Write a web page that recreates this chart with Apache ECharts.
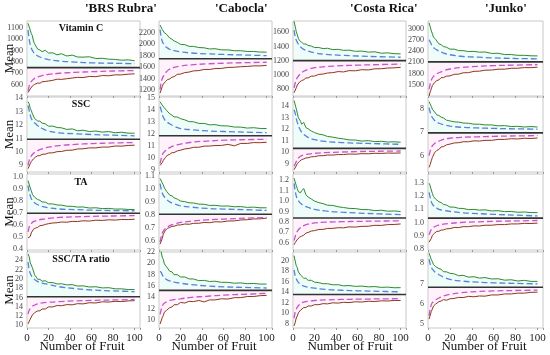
<!DOCTYPE html>
<html><head><meta charset="utf-8">
<script src="https://cdn.jsdelivr.net/npm/echarts@6/dist/echarts.min.js"></script>
<style>html,body{margin:0;padding:0;background:#fff}#c{width:550px;height:355px}</style>
</head><body><div id="c"></div>
<script>
// ---------------- DATA ----------------
const fruitN = [1,2,3,4,5,6,7,8,10,12,14,17,20,24,28,32,37,42,47,52,58,64,70,76,82,88,94,100];
const fruitD = [1,2,3,4,6,8,10,14,20,30,45,60,80,100];
const cultivars = ["'BRS Rubra'","'Cabocla'","'Costa Rica'","'Junko'"];
const traits = ["Vitamin C","SSC","TA","SSC/TA ratio"];
const xTicks = [0,20,40,60,80,100];

// Vitamin C
const vc_brs_mean = 750;
const vc_brs_hi   = [1140,1135,1080,1050,1030,985,960,950,912,905,890,902,878,880,862,872,852,860,843,842,845,830,832,824,822,815,818,810];
const vc_brs_ciHi = [1080,1000,950,920,885,865,852,835,820,808,798,792,788,785];
const vc_brs_ciLo = [545,585,610,628,648,660,668,680,690,700,708,714,720,724];
const vc_brs_lo   = [530,535,562,572,588,586,602,596,614,612,625,628,632,638,648,646,652,658,664,662,672,670,680,678,686,686,692,695];
const vc_brs_ticks = [600,700,800,900,1000,1100];

const vc_cab_mean = 1745;
const vc_cab_hi   = [2330,2310,2255,2235,2195,2195,2170,2155,2105,2085,2055,2030,1995,1990,1960,1960,1940,1935,1915,1920,1900,1900,1885,1885,1872,1872,1862,1860];
const vc_cab_ciHi = [2250,2120,2050,2010,1960,1930,1910,1885,1865,1845,1830,1820,1810,1800];
const vc_cab_ciLo = [1210,1330,1400,1440,1500,1540,1565,1595,1620,1640,1658,1668,1678,1685];
const vc_cab_lo   = [1150,1205,1265,1305,1325,1350,1355,1385,1395,1425,1435,1475,1480,1505,1515,1535,1540,1560,1560,1575,1578,1595,1598,1608,1612,1622,1622,1630];
const vc_cab_ticks = [1200,1400,1600,1800,2000,2200];

const vc_cos_mean = 1200;
const vc_cos_hi   = [1755,1740,1615,1565,1515,1485,1465,1460,1435,1435,1415,1405,1385,1385,1370,1375,1355,1360,1345,1348,1332,1335,1320,1325,1305,1310,1298,1296];
const vc_cos_ciHi = [1630,1540,1490,1460,1410,1380,1360,1335,1310,1290,1275,1265,1255,1248];
const vc_cos_ciLo = [815,880,930,960,1000,1030,1050,1075,1100,1115,1128,1136,1144,1150];
const vc_cos_lo   = [745,762,815,855,866,895,900,918,930,955,955,980,982,1005,1010,1025,1030,1045,1040,1058,1056,1072,1068,1084,1085,1095,1098,1105];
const vc_cos_ticks = [800,1000,1200,1400,1600];

const vc_jun_mean = 2110;
const vc_jun_hi   = [3150,3050,2940,2860,2770,2760,2710,2705,2590,2570,2520,2500,2450,2450,2410,2410,2385,2390,2368,2375,2335,2340,2305,2305,2285,2285,2272,2270];
const vc_jun_ciHi = [2700,2640,2580,2530,2470,2430,2400,2350,2300,2260,2235,2215,2200,2190];
const vc_jun_ciLo = [1380,1520,1620,1680,1750,1790,1820,1870,1920,1960,1990,2010,2025,2035];
const vc_jun_lo   = [1200,1310,1390,1480,1500,1560,1570,1610,1630,1690,1690,1730,1735,1778,1782,1818,1822,1858,1862,1888,1892,1915,1915,1940,1940,1958,1955,1970];
const vc_jun_ticks = [1500,1800,2100,2400,2700,3000];

// SSC
const ssc_brs_mean = 10.95;
const ssc_brs_hi   = [13.75,13.6,13.25,13.1,12.85,12.75,12.5,12.5,12.3,12.3,12.15,12.1,11.92,11.93,11.82,11.8,11.68,11.72,11.58,11.62,11.52,11.56,11.48,11.52,11.43,11.47,11.4,11.4];
const ssc_brs_ciHi = [13.45,13.1,12.75,12.5,12.25,12.1,11.95,11.75,11.55,11.42,11.35,11.3,11.25,11.2];
const ssc_brs_ciLo = [9.0,9.35,9.55,9.7,9.9,10.0,10.1,10.22,10.35,10.47,10.56,10.62,10.67,10.7];
const ssc_brs_lo   = [8.75,8.85,9.12,9.28,9.42,9.48,9.62,9.62,9.72,9.72,9.82,9.83,9.92,9.93,10.02,10.03,10.12,10.13,10.22,10.23,10.3,10.3,10.36,10.36,10.44,10.43,10.48,10.5];
const ssc_brs_ticks = [9,10,11,12,13,14];

const ssc_cab_mean = 11.85;
const ssc_cab_hi   = [14.7,14.6,14.42,14.32,14.18,14.12,13.98,13.87,13.68,13.58,13.43,13.42,13.28,13.18,13.03,13.02,12.88,12.88,12.76,12.78,12.68,12.67,12.58,12.57,12.49,12.52,12.46,12.45];
const ssc_cab_ciHi = [14.3,14.0,13.65,13.4,13.1,12.95,12.85,12.65,12.45,12.35,12.25,12.2,12.15,12.1];
const ssc_cab_ciLo = [9.5,9.9,10.2,10.4,10.6,10.75,10.85,11.0,11.15,11.3,11.4,11.47,11.52,11.55];
const ssc_cab_lo   = [9.35,9.42,9.58,9.78,9.88,10.02,10.08,10.22,10.28,10.42,10.43,10.57,10.63,10.74,10.78,10.87,10.88,10.97,10.98,11.02,11.03,11.12,11.0,11.2,11.2,11.27,11.26,11.3];
const ssc_cab_ticks = [9,10,11,12,13,14,15];

const ssc_cos_mean = 10.35;
const ssc_cos_hi   = [14.5,14.4,13.8,13.4,13.0,12.85,12.7,12.45,12.6,12.15,12.05,11.85,11.72,11.58,11.52,11.38,11.32,11.23,11.17,11.08,11.07,10.98,11.02,10.93,10.96,10.9,10.92,10.88];
const ssc_cos_ciHi = [13.7,13.4,12.95,12.6,12.1,11.75,11.55,11.3,11.1,10.95,10.85,10.8,10.75,10.7];
const ssc_cos_ciLo = [8.8,9.0,9.2,9.4,9.6,9.72,9.78,9.85,9.92,9.98,10.03,10.07,10.1,10.12];
const ssc_cos_lo   = [8.5,8.62,8.83,9.02,9.08,9.22,9.28,9.37,9.43,9.52,9.53,9.62,9.63,9.71,9.71,9.77,9.77,9.81,9.81,9.86,9.84,9.89,9.88,9.92,9.91,9.94,9.93,9.95];
const ssc_cos_ticks = [9,10,11,12,13,14];

const ssc_jun_mean = 6.97;
const ssc_jun_hi   = [8.3,8.2,8.1,7.98,7.96,7.86,7.81,7.74,7.71,7.64,7.61,7.51,7.48,7.44,7.43,7.39,7.38,7.34,7.34,7.31,7.31,7.27,7.28,7.24,7.25,7.22,7.24,7.22];
const ssc_jun_ciHi = [8.05,7.85,7.7,7.62,7.5,7.43,7.38,7.32,7.26,7.21,7.18,7.16,7.14,7.13];
const ssc_jun_ciLo = [6.0,6.2,6.33,6.42,6.52,6.58,6.62,6.69,6.74,6.78,6.8,6.82,6.84,6.85];
const ssc_jun_lo   = [5.5,5.62,5.78,5.92,5.98,6.12,6.13,6.22,6.26,6.37,6.38,6.46,6.49,6.54,6.55,6.59,6.59,6.63,6.62,6.65,6.65,6.69,6.69,6.72,6.71,6.74,6.73,6.75];
const ssc_jun_ticks = [6,7,8];

// TA
const ta_brs_mean = 0.695;
const ta_brs_hi   = [0.965,0.95,0.905,0.882,0.852,0.842,0.828,0.822,0.808,0.802,0.788,0.787,0.772,0.772,0.763,0.762,0.753,0.752,0.746,0.747,0.738,0.74,0.733,0.735,0.729,0.73,0.726,0.725];
const ta_brs_ciHi = [0.925,0.87,0.84,0.815,0.79,0.775,0.765,0.752,0.74,0.73,0.725,0.72,0.717,0.715];
const ta_brs_ciLo = [0.54,0.58,0.6,0.61,0.625,0.632,0.638,0.645,0.652,0.66,0.665,0.669,0.672,0.675];
const ta_brs_lo   = [0.49,0.488,0.502,0.532,0.548,0.562,0.562,0.572,0.578,0.592,0.593,0.602,0.608,0.614,0.616,0.622,0.62,0.627,0.626,0.632,0.63,0.637,0.635,0.64,0.638,0.643,0.642,0.645];
const ta_brs_ticks = [0.4,0.5,0.6,0.7,0.8,0.9,1.0];

const ta_cab_mean = 0.805;
const ta_cab_hi   = [1.08,1.07,1.048,1.032,1.008,0.997,0.982,0.972,0.952,0.947,0.932,0.922,0.907,0.902,0.893,0.892,0.883,0.882,0.873,0.874,0.868,0.869,0.863,0.864,0.858,0.86,0.855,0.855];
const ta_cab_ciHi = [1.04,1.0,0.97,0.95,0.93,0.912,0.9,0.885,0.87,0.86,0.85,0.845,0.84,0.835];
const ta_cab_ciLo = [0.59,0.63,0.66,0.675,0.695,0.708,0.718,0.73,0.742,0.752,0.762,0.768,0.775,0.78];
const ta_cab_lo   = [0.575,0.582,0.618,0.652,0.662,0.682,0.688,0.697,0.703,0.712,0.713,0.722,0.723,0.73,0.728,0.735,0.736,0.742,0.74,0.747,0.746,0.753,0.754,0.761,0.763,0.769,0.77,0.775];
const ta_cab_ticks = [0.6,0.7,0.8,0.9,1.0,1.1];

const ta_cos_mean = 0.838;
const ta_cos_hi   = [1.22,1.21,1.15,1.12,1.09,1.075,1.08,1.1,1.12,1.06,1.04,1.02,1.0,0.985,0.975,0.96,0.958,0.945,0.938,0.93,0.928,0.918,0.918,0.908,0.912,0.903,0.905,0.9];
const ta_cos_ciHi = [1.17,1.1,1.05,1.02,0.99,0.97,0.955,0.94,0.92,0.905,0.893,0.885,0.877,0.87];
const ta_cos_ciLo = [0.62,0.66,0.69,0.71,0.735,0.755,0.765,0.778,0.79,0.797,0.802,0.805,0.808,0.81];
const ta_cos_lo   = [0.58,0.6,0.618,0.632,0.638,0.652,0.652,0.663,0.672,0.692,0.698,0.712,0.716,0.727,0.728,0.737,0.738,0.744,0.743,0.752,0.75,0.757,0.758,0.767,0.766,0.774,0.775,0.78];
const ta_cos_ticks = [0.6,0.7,0.8,0.9,1.0,1.1,1.2];

const ta_jun_mean = 1.033;
const ta_jun_hi   = [1.3,1.28,1.248,1.222,1.198,1.192,1.178,1.172,1.158,1.152,1.138,1.133,1.118,1.117,1.108,1.107,1.098,1.1,1.094,1.097,1.088,1.09,1.083,1.084,1.078,1.08,1.076,1.075];
const ta_jun_ciHi = [1.23,1.19,1.16,1.14,1.12,1.11,1.1,1.093,1.085,1.075,1.068,1.062,1.056,1.05];
const ta_jun_ciLo = [0.905,0.93,0.945,0.955,0.967,0.975,0.98,0.987,0.993,1.0,1.005,1.009,1.012,1.015];
const ta_jun_lo   = [0.85,0.862,0.878,0.902,0.908,0.918,0.922,0.932,0.933,0.942,0.943,0.952,0.953,0.962,0.961,0.968,0.968,0.974,0.973,0.979,0.979,0.984,0.984,0.989,0.989,0.993,0.992,0.995];
const ta_jun_ticks = [0.8,0.9,1.0,1.1,1.2,1.3];

// SSC/TA ratio
const rat_brs_mean = 16.15;
const rat_brs_hi   = [25.4,24.8,23.5,23.1,22.4,21.7,20.9,20.5,19.9,19.9,19.5,19.6,19.2,19.2,18.9,18.95,18.7,18.75,18.45,18.5,18.25,18.3,18.05,18.1,17.85,17.85,17.7,17.7];
const rat_brs_ciHi = [23.6,22.0,21.2,20.7,20.1,19.7,19.4,19.1,18.8,18.3,17.9,17.6,17.4,17.25];
const rat_brs_ciLo = [12.4,13.2,13.6,13.9,14.25,14.45,14.6,14.8,14.95,15.1,15.25,15.35,15.45,15.55];
const rat_brs_lo   = [10.3,10.6,11.3,11.6,12.2,12.3,12.7,12.7,13.1,13.1,13.5,13.5,13.95,13.95,14.25,14.2,14.45,14.4,14.65,14.6,14.85,14.8,15.05,15.0,15.15,15.1,15.25,15.3];
const rat_brs_ticks = [10,12,14,16,18,20,22,24];

const rat_cab_mean = 15.23;
const rat_cab_hi   = [23.0,22.0,21.1,20.7,19.9,19.8,19.4,19.2,18.6,18.5,18.0,18.0,17.6,17.6,17.25,17.25,16.95,17.0,16.8,16.85,16.65,16.65,16.5,16.55,16.42,16.45,16.35,16.35];
const rat_cab_ciHi = [18.6,18.4,18.0,17.7,17.3,17.05,16.9,16.7,16.5,16.25,16.0,15.85,15.75,15.65];
const rat_cab_ciLo = [11.0,11.8,12.4,12.8,13.1,13.3,13.45,13.6,13.75,14.0,14.2,14.4,14.55,14.7];
const rat_cab_lo   = [9.3,9.5,10.4,10.8,11.4,11.4,11.7,11.7,12.2,12.3,12.7,12.7,13.1,13.0,13.3,13.25,13.45,13.2,13.55,13.55,13.75,13.7,13.95,13.95,14.15,14.15,14.3,14.35];
const rat_cab_ticks = [10,12,14,16,18,20,22];

const rat_cos_mean = 13.6;
const rat_cos_hi   = [21.0,20.0,19.1,18.7,17.9,17.7,17.3,17.2,16.7,16.7,16.3,16.3,15.95,15.85,15.65,15.65,15.45,15.45,15.25,15.3,15.15,15.2,15.05,15.1,14.95,15.0,14.88,14.9];
const rat_cos_ciHi = [18.3,17.2,16.6,16.2,15.7,15.4,15.2,15.0,14.8,14.55,14.4,14.3,14.2,14.1];
const rat_cos_ciLo = [9.1,10.2,10.8,11.2,11.7,12.0,12.15,12.3,12.45,12.55,12.65,12.7,12.75,12.8];
const rat_cos_lo   = [7.6,8.2,9.1,9.5,10.1,10.2,10.6,10.6,11.1,11.1,11.4,11.4,11.65,11.65,11.85,11.8,12.0,11.95,12.1,12.05,12.2,12.15,12.3,12.25,12.38,12.35,12.45,12.45];
const rat_cos_ticks = [8,10,12,14,16,18,20];

const rat_jun_mean = 6.81;
const rat_jun_hi   = [8.49,8.4,8.18,8.07,7.93,7.92,7.83,7.84,7.73,7.7,7.58,7.57,7.5,7.47,7.38,7.4,7.31,7.33,7.26,7.29,7.22,7.23,7.16,7.18,7.12,7.15,7.1,7.1];
const rat_jun_ciHi = [8.2,7.95,7.8,7.7,7.58,7.5,7.43,7.32,7.2,7.12,7.06,7.03,7.0,6.98];
const rat_jun_ciLo = [5.4,5.75,5.95,6.05,6.15,6.22,6.28,6.38,6.46,6.54,6.6,6.63,6.65,6.67];
const rat_jun_lo   = [5.24,5.3,5.62,5.73,5.88,5.88,5.98,5.98,6.1,6.13,6.2,6.17,6.24,6.26,6.31,6.3,6.36,6.34,6.38,6.37,6.43,6.43,6.48,6.48,6.52,6.52,6.56,6.57];
const rat_jun_ticks = [5,6,7,8];

// ---------------- LAYOUT / STYLE ----------------
const colLeft = [27,159,293,428], colWidth = [113,113,113,115];
const rowTop = [21,97,174,252], rowHeight = [75,75,76,76];
// y-axis [min, max, step, decimals] per panel (row-major)
const yScale = [
  [[500,1160,100,0],[1100,2400,100,0],[700,1760,100,0],[1200,3200,300,0]],
  [[8.5,14.1,0.5,0],[8.8,15.1,0.2,0],[8.3,14.8,0.1,0],[5.3,8.5,0.1,0]],
  [[0.39,1.02,0.01,1],[0.53,1.115,0.01,1],[0.53,1.26,0.01,1],[0.79,1.37,0.01,1]],
  [[9.4,25.8,0.2,0],[8.6,22.0,0.2,0],[7.2,21.7,0.2,0],[4.8,8.55,0.05,0]]
];
const panels = [
  [[vc_brs_mean,vc_brs_hi,vc_brs_ciHi,vc_brs_ciLo,vc_brs_lo,vc_brs_ticks],
   [vc_cab_mean,vc_cab_hi,vc_cab_ciHi,vc_cab_ciLo,vc_cab_lo,vc_cab_ticks],
   [vc_cos_mean,vc_cos_hi,vc_cos_ciHi,vc_cos_ciLo,vc_cos_lo,vc_cos_ticks],
   [vc_jun_mean,vc_jun_hi,vc_jun_ciHi,vc_jun_ciLo,vc_jun_lo,vc_jun_ticks]],
  [[ssc_brs_mean,ssc_brs_hi,ssc_brs_ciHi,ssc_brs_ciLo,ssc_brs_lo,ssc_brs_ticks],
   [ssc_cab_mean,ssc_cab_hi,ssc_cab_ciHi,ssc_cab_ciLo,ssc_cab_lo,ssc_cab_ticks],
   [ssc_cos_mean,ssc_cos_hi,ssc_cos_ciHi,ssc_cos_ciLo,ssc_cos_lo,ssc_cos_ticks],
   [ssc_jun_mean,ssc_jun_hi,ssc_jun_ciHi,ssc_jun_ciLo,ssc_jun_lo,ssc_jun_ticks]],
  [[ta_brs_mean,ta_brs_hi,ta_brs_ciHi,ta_brs_ciLo,ta_brs_lo,ta_brs_ticks],
   [ta_cab_mean,ta_cab_hi,ta_cab_ciHi,ta_cab_ciLo,ta_cab_lo,ta_cab_ticks],
   [ta_cos_mean,ta_cos_hi,ta_cos_ciHi,ta_cos_ciLo,ta_cos_lo,ta_cos_ticks],
   [ta_jun_mean,ta_jun_hi,ta_jun_ciHi,ta_jun_ciLo,ta_jun_lo,ta_jun_ticks]],
  [[rat_brs_mean,rat_brs_hi,rat_brs_ciHi,rat_brs_ciLo,rat_brs_lo,rat_brs_ticks],
   [rat_cab_mean,rat_cab_hi,rat_cab_ciHi,rat_cab_ciLo,rat_cab_lo,rat_cab_ticks],
   [rat_cos_mean,rat_cos_hi,rat_cos_ciHi,rat_cos_ciLo,rat_cos_lo,rat_cos_ticks],
   [rat_jun_mean,rat_jun_hi,rat_jun_ciHi,rat_jun_ciLo,rat_jun_lo,rat_jun_ticks]]
];

const SERIF = "'Liberation Serif','DejaVu Serif',serif";
const zip = (xs, ys) => xs.map((x,i)=>[x, ys[i]]);

const grid = [], xAxis = [], yAxis = [], series = [], graphic = [];
for (let r=0;r<4;r++){
  for (let c=0;c<4;c++){
    const idx = r*4+c;
    const [mean,hi,ciHi,ciLo,lo,ticks] = panels[r][c];
    const [ymin,ymax,ystep,dec] = yScale[r][c];
    grid.push({left:colLeft[c], top:rowTop[r], width:colWidth[c], height:rowHeight[r],
      show:true, borderColor:'#c8c8c8', borderWidth:1, backgroundColor:'#fff'});
    xAxis.push({type:'value', gridIndex:idx, min:0, max:105, interval:20,
      axisLine:{show:false}, splitLine:{show:false},
      axisTick:{show:true, length:2, lineStyle:{color:'#999'}},
      axisLabel:{show:r===3, margin:5, fontFamily:SERIF, fontSize:11, color:'#222',
        formatter:v=> xTicks.includes(v)?String(v):''}});
    yAxis.push({type:'value', gridIndex:idx, min:ymin, max:ymax, interval:ystep,
      axisLine:{show:false}, axisTick:{show:false}, splitLine:{show:false},
      axisLabel:{margin:4, fontFamily:SERIF, fontSize:8, color:'#444',
        formatter:v=>{const t=ticks.find(k=>Math.abs(k-v)<ystep/10); return t===undefined?'':t.toFixed(dec);}}});
    const base = {xAxisIndex:idx, yAxisIndex:idx, type:'line', symbol:'none', silent:true, animation:false, clip:true};
    series.push(Object.assign({}, base, {data:zip(fruitN,hi), lineStyle:{color:'#2f8a2f',width:1},
      areaStyle:{origin:mean, color:'rgba(200,250,240,0.45)'}, z:3}));
    series.push(Object.assign({}, base, {data:zip(fruitN,lo), lineStyle:{color:'#8a3a1c',width:1},
      areaStyle:{origin:mean, color:'rgba(255,215,238,0.45)'}, z:3}));
    series.push(Object.assign({}, base, {data:zip(fruitD,ciHi), smooth:0.4, lineStyle:{color:'#5a80d8',width:1.3,type:[6,3]}, z:4}));
    series.push(Object.assign({}, base, {data:zip(fruitD,ciLo), smooth:0.4, lineStyle:{color:'#c256cc',width:1.3,type:[6,3]}, z:4}));
    series.push(Object.assign({}, base, {data:[[0,mean],[105,mean]], lineStyle:{color:'#333',width:1.6}, z:5}));
  }
}
// column titles
const titleX = [85,215,350,485];
cultivars.forEach((t,c)=>graphic.push({type:'text', left:titleX[c], top:2,
  style:{text:t, font:"bold 13px "+SERIF, fill:'#111', textAlign:'center'}}));
// trait labels
const traitY = [23,99,177,254];
traits.forEach((t,r)=>graphic.push({type:'text', x:81, y:traitY[r],
  style:{text:t, font:"bold 10px "+SERIF, fill:'#111', textAlign:'center'}}));
// Mean labels
for (let r=0;r<4;r++){
  graphic.push({type:'text', x:3, y:rowTop[r]+rowHeight[r]/2, rotation:Math.PI/2,
    style:{text:'Mean', font:"13px "+SERIF, fill:'#111', textAlign:'center', textVerticalAlign:'top'}});
}
// x-axis titles
const xTitleX = [82,214,350,484];
xTitleX.forEach(x=>graphic.push({type:'text', x:x, y:340,
  style:{text:'Number of Fruit', font:"13px "+SERIF, fill:'#111', textAlign:'center'}}));

const chart = echarts.init(document.getElementById('c'), null, {renderer:'canvas'});
chart.setOption({animation:false, grid, xAxis, yAxis, series, graphic});
</script></body></html>
